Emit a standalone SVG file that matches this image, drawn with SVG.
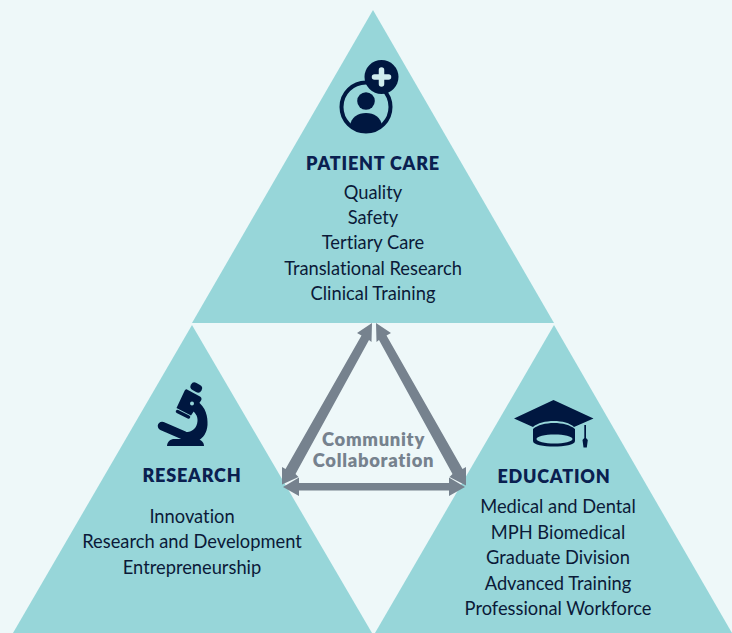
<svg xmlns="http://www.w3.org/2000/svg" width="732" height="633" viewBox="0 0 732 633">
<style>
.tri{fill:#97d6d9}
.ic{fill:#001740}
.h{font:800 18px "Lato","Liberation Sans",sans-serif;fill:#0a2050;text-anchor:middle;letter-spacing:.8px;font-variant-ligatures:none}
.t{font:400 18.3px "Lato","Liberation Sans",sans-serif;fill:#0b1a38;text-anchor:middle;font-variant-ligatures:none}
.c{font:800 18.4px "Lato","Liberation Sans",sans-serif;fill:#76828e;text-anchor:middle;letter-spacing:.7px;font-variant-ligatures:none}
.ar{fill:#76828e}
</style>
<rect width="732" height="633" fill="#eef8f9"/>
<g id="patient-care">
<polygon class="tri" points="373,10 554,323 192,323"/>
<circle cx="366" cy="107" r="24.5" fill="none" stroke="#001740" stroke-width="4"/>
<circle class="ic" cx="366" cy="101" r="8.800"/>
<path class="ic" d="M350 126C351 117 358 113 366 113C374 113 381 117 382 126C378 130 372 132 366 132C360 132 354 130 350 126Z"/>
<circle class="ic" cx="381.500" cy="77" r="17"/>
<path d="M381.500 70V84M374.500 77H388.500" stroke="#cfecee" stroke-width="5.500" fill="none" stroke-linecap="round"/>
<text class="h" x="373" y="169.500">PATIENT CARE</text>
<text class="t" x="373" y="198.700">Quality</text>
<text class="t" x="373" y="223.700">Safety</text>
<text class="t" x="373" y="248.700">Tertiary Care</text>
<text class="t" x="373" y="274.700">Translational Research</text>
<text class="t" x="373" y="299.700">Clinical Training</text>
</g>
<g id="research">
<polygon class="tri" points="192,325 372,633 13,633"/>
<path d="M194.500 386.500L198 388.500" stroke="#001740" stroke-width="8" stroke-linecap="round" fill="none"/>
<path class="ic" d="M187 389.500L200 396.500C201.500 397.500 202 399 201 400.500L191 415.500L176.500 408L184.500 391C185 390 186 389 187 389.500Z"/>
<path d="M177.500 411.500L188.500 417" stroke="#001740" stroke-width="3.500" stroke-linecap="round" fill="none"/>
<path class="ic" d="M197 401C206 407 208 417 207.500 425C207 433 203 438 198 441H183V432C191 433 197 429 197.500 421C198 416 195 412 191 410Z"/>
<path d="M162 426L184 435.500" stroke="#001740" stroke-width="8.500" stroke-linecap="round" fill="none"/>
<path class="ic" d="M173 439H197C202 440 204 443 204 446H167C167 443 169 440 173 439Z"/>
<circle cx="192" cy="403.500" r="2" fill="#97d6d9"/>
<text class="h" x="192" y="481.500">RESEARCH</text>
<text class="t" x="192" y="522.700">Innovation</text>
<text class="t" x="192" y="547.700">Research and Development</text>
<text class="t" x="192" y="573.700">Entrepreneurship</text>
</g>
<g id="education">
<polygon class="tri" points="554,325 732,633 375,633"/>
<path class="ic" d="M514 418.500L553.500 400L593.500 418.500L574 427C566 419 542 419 533 427Z"/>
<path class="ic" fill-rule="evenodd" d="M533 429C542 421 566 421 575 429V441C575 445 564 446.500 554 446.500C544 446.500 533 445 533 441ZM536.500 439C536.500 441.500 545 443.500 554.500 443.500C564 443.500 572.500 441.500 572.500 439C572.500 436.500 564 434.500 554.500 434.500C545 434.500 536.500 436.500 536.500 439Z"/>
<path class="ic" d="M584.300 425H586V438L587.800 440L586.800 447.500H583.500L582.500 440L584.300 438Z"/>
<text class="h" x="554" y="482.500">EDUCATION</text>
<text class="t" x="558" y="513">Medical and Dental</text>
<text class="t" x="558" y="539">MPH Biomedical</text>
<text class="t" x="558" y="564">Graduate Division</text>
<text class="t" x="558" y="590">Advanced Training</text>
<text class="t" x="558" y="615">Professional Workforce</text>
</g>
<g id="connectors">
<path class="ar" d="M372 323L371.500 342L369 340L295.500 474L298.500 477L282 484.500V467L285.500 469L361.500 335.500L357 333Z"/>
<path class="ar" d="M376 323L376.500 342L379 340L452.500 474L449.500 477L466 485.500V467L462.500 469L386.500 335.500L391 333Z"/>
<path class="ar" d="M283 487L299 477.500V483H449V477.500L465 487L449 496V490.500H299V496Z"/>
</g>
<text class="c" x="373.500" y="446">Community</text>
<text class="c" x="373.500" y="467">Collaboration</text>
</svg>
